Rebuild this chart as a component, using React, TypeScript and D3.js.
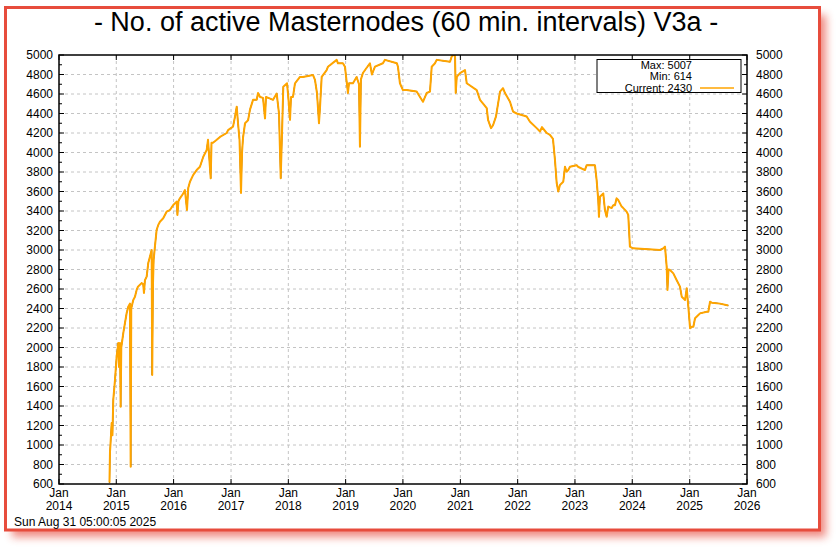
import React from "react";
import * as d3 from "d3";

// ---- data (decimal year, active masternodes) ----
const dates: number[] = [
  2014.881, 2014.890, 2014.898, 2014.919, 2014.933, 2014.947, 2014.977, 2015.006, 2015.034, 2015.047,
  2015.064, 2015.076, 2015.087, 2015.122, 2015.151, 2015.181, 2015.209, 2015.238, 2015.251, 2015.261,
  2015.296, 2015.326, 2015.355, 2015.378, 2015.442, 2015.470, 2015.483, 2015.500, 2015.530, 2015.558,
  2015.587, 2015.617, 2015.627, 2015.640, 2015.652, 2015.674, 2015.704, 2015.732, 2015.762, 2015.819,
  2015.878, 2015.936, 2015.994, 2016.053, 2016.067, 2016.084, 2016.110, 2016.168, 2016.198, 2016.233,
  2016.255, 2016.285, 2016.342, 2016.402, 2016.459, 2016.517, 2016.576, 2016.599, 2016.646, 2016.660,
  2016.686, 2016.751, 2016.808, 2016.925, 2016.948, 2017.035, 2017.070, 2017.099, 2017.122, 2017.148,
  2017.174, 2017.192, 2017.209, 2017.244, 2017.297, 2017.331, 2017.384, 2017.448, 2017.471, 2017.506,
  2017.558, 2017.593, 2017.610, 2017.733, 2017.797, 2017.837, 2017.867, 2017.890, 2017.912, 2017.977,
  2017.999, 2018.029, 2018.047, 2018.081, 2018.116, 2018.203, 2018.256, 2018.430, 2018.465, 2018.500,
  2018.535, 2018.552, 2018.582, 2018.669, 2018.692, 2018.844, 2018.866, 2018.953, 2018.988, 2019.041,
  2019.058, 2019.128, 2019.192, 2019.233, 2019.250, 2019.267, 2019.302, 2019.424, 2019.459, 2019.512,
  2019.651, 2019.686, 2019.895, 2019.913, 2019.948, 2020.000, 2020.065, 2020.239, 2020.297, 2020.349,
  2020.413, 2020.471, 2020.501, 2020.558, 2020.588, 2020.820, 2020.849, 2020.890, 2020.907, 2020.919,
  2020.937, 2020.994, 2021.081, 2021.111, 2021.285, 2021.343, 2021.460, 2021.483, 2021.535, 2021.570,
  2021.622, 2021.692, 2021.744, 2021.779, 2021.866, 2021.919, 2021.983, 2022.157, 2022.215, 2022.332,
  2022.390, 2022.424, 2022.506, 2022.564, 2022.616, 2022.651, 2022.681, 2022.709, 2022.738, 2022.796,
  2022.826, 2022.855, 2022.883, 2022.913, 2023.030, 2023.052, 2023.174, 2023.204, 2023.349, 2023.378,
  2023.406, 2023.419, 2023.436, 2023.494, 2023.523, 2023.553, 2023.581, 2023.640, 2023.668, 2023.698,
  2023.727, 2023.755, 2023.815, 2023.843, 2023.902, 2023.930, 2023.959, 2024.012, 2024.483, 2024.540,
  2024.570, 2024.599, 2024.613, 2024.631, 2024.657, 2024.715, 2024.774, 2024.831, 2024.861, 2024.919,
  2024.948, 2024.976, 2025.006, 2025.036, 2025.064, 2025.093, 2025.151, 2025.180, 2025.297, 2025.325,
  2025.355, 2025.384, 2025.529, 2025.674,
];
const counts: number[] = [
  614, 930, 1000, 1226, 1100, 1462, 1667, 1906, 2046, 1800,
  2046, 1393, 2000, 2148, 2250, 2354, 2418, 2450, 777, 2400,
  2487, 2521, 2590, 2624, 2660, 2650, 2560, 2690, 2727, 2866,
  2931, 3000, 1718, 2650, 2900, 3034, 3205, 3256, 3290, 3325,
  3393, 3410, 3462, 3496, 3360, 3500, 3530, 3580, 3615, 3410,
  3636, 3700, 3770, 3820, 3854, 3957, 4025, 4130, 3735, 4100,
  4100, 4130, 4160, 4200, 4230, 4265, 4370, 4470, 4300, 4130,
  3585, 4000, 4150, 4300, 4330, 4440, 4540, 4540, 4610, 4570,
  4560, 4350, 4570, 4540, 4605, 4400, 3735, 4200, 4675, 4710,
  4570, 4335, 4570, 4570, 4710, 4775, 4775, 4795, 4745, 4610,
  4300, 4455, 4775, 4845, 4880, 4950, 4915, 4915, 4880, 4610,
  4710, 4710, 4775, 4700, 4060, 4750, 4815, 4915, 4800, 4880,
  4915, 4950, 4915, 4880, 4710, 4640, 4640, 4625, 4570, 4520,
  4610, 4625, 4880, 4915, 4950, 4930, 4985, 5007, 4985, 4610,
  4775, 4815, 4845, 4710, 4640, 4540, 4455, 4335, 4250, 4280,
  4370, 4625, 4660, 4610, 4520, 4420, 4400, 4370, 4315, 4250,
  4215, 4260, 4200, 4180, 4140, 3923, 3687, 3600, 3667, 3700,
  3854, 3803, 3820, 3854, 3870, 3854, 3820, 3870, 3870, 3718,
  3513, 3340, 3547, 3580, 3410, 3340, 3445, 3430, 3460, 3460,
  3530, 3513, 3445, 3430, 3393, 3360, 3034, 3017, 3000, 3017,
  3034, 2830, 2590, 2800, 2795, 2760, 2690, 2624, 2521, 2487,
  2607, 2418, 2197, 2213, 2213, 2300, 2333, 2350, 2367, 2367,
  2470, 2460, 2450, 2430,
];
const tickYears: number[] = [2014, 2015, 2016, 2017, 2018, 2019, 2020, 2021, 2022, 2023, 2024, 2025, 2026];
const yTicks: number[] = [600, 800, 1000, 1200, 1400, 1600, 1800, 2000, 2200, 2400, 2600, 2800, 3000, 3200, 3400, 3600, 3800, 4000, 4200, 4400, 4600, 4800, 5000];
const titleText = "- No. of active Masternodes (60 min. intervals) V3a -";
const legendLines: string[] = ["Max: 5007", "Min: 614", "Current: 2430"];
const timestamp = "Sun Aug 31 05:00:05 2025";

function yearToDate(y: number): Date {
  const yr = Math.floor(y);
  const start = new Date(Date.UTC(yr, 0, 1)).getTime();
  const end = new Date(Date.UTC(yr + 1, 0, 1)).getTime();
  return new Date(start + (y - yr) * (end - start));
}

const W = 839;
const H = 550;
const M = { left: 59, right: 747, top: 55, bottom: 484 };
const FONT = "'Liberation Sans', Arial, Helvetica, sans-serif";
const RED = "#e74c3c";

export default function App() {
  const x = d3.scaleUtc()
    .domain([yearToDate(2014), yearToDate(2026)])
    .range([M.left, M.right]);
  const y = d3.scaleLinear().domain([600, 5000]).range([M.bottom, M.top]);

  const pts = dates.map((d, i) => ({ d: yearToDate(d), v: counts[i] }));
  const line = d3.line<{ d: Date; v: number }>()
    .x((p) => x(p.d))
    .y((p) => y(p.v));
  const path = line(pts) || "";

  const minorTicks = d3.range(700, 5000, 200);

  return (
    <svg width={W} height={H} style={{ position: "absolute", left: 0, top: 0, background: "#fff" }} fontFamily={FONT}>
      <defs>
        <filter id="shadow" x="-5%" y="-5%" width="115%" height="115%">
          <feGaussianBlur stdDeviation="4" />
        </filter>
        <clipPath id="plotclip">
          <rect x={M.left} y={M.top} width={M.right - M.left} height={M.bottom - M.top} />
        </clipPath>
      </defs>
      <rect x={0} y={0} width={W} height={H} fill="#fff" />
      <rect x={12} y={15} width={814} height={522} fill={RED} opacity={0.65} filter="url(#shadow)" />
      <rect x={5.5} y={7.5} width={814} height={522.5} fill="#fff" stroke={RED} strokeWidth={3} />

      <text x={406} y={31} textAnchor="middle" fontSize={27} fill="#000">{titleText}</text>

      {/* grid */}
      <g stroke="#c4c4c4" strokeWidth={1} strokeDasharray="3,3">
        {tickYears.slice(1, -1).map((t) => (
          <line key={"gx" + t} x1={x(yearToDate(t))} x2={x(yearToDate(t))} y1={M.top} y2={M.bottom} />
        ))}
        {yTicks.slice(1, -1).map((v) => (
          <line key={"gy" + v} x1={M.left} x2={M.right} y1={y(v)} y2={y(v)} />
        ))}
      </g>

      {/* data */}
      <g clipPath="url(#plotclip)">
        <path d={path} fill="none" stroke="#000" strokeWidth={1} />
        <path d={path} fill="none" stroke="#ffa500" strokeWidth={2} strokeLinejoin="round" />
      </g>

      {/* axes frame */}
      <rect x={M.left} y={M.top} width={M.right - M.left} height={M.bottom - M.top} fill="none" stroke="#000" strokeWidth={1.5} />

      {/* ticks */}
      <g stroke="#000" strokeWidth={1}>
        {yTicks.map((v) => (
          <g key={"ty" + v}>
            <line x1={M.left} x2={M.left + 5} y1={y(v)} y2={y(v)} />
            <line x1={M.right} x2={M.right - 5} y1={y(v)} y2={y(v)} />
          </g>
        ))}
        {minorTicks.map((v) => (
          <g key={"tm" + v}>
            <line x1={M.left} x2={M.left + 3} y1={y(v)} y2={y(v)} />
            <line x1={M.right} x2={M.right - 3} y1={y(v)} y2={y(v)} />
          </g>
        ))}
        {tickYears.map((t) => (
          <g key={"tx" + t}>
            <line x1={x(yearToDate(t))} x2={x(yearToDate(t))} y1={M.bottom} y2={M.bottom - 5} />
            <line x1={x(yearToDate(t))} x2={x(yearToDate(t))} y1={M.top} y2={M.top + 5} />
          </g>
        ))}
      </g>

      {/* tick labels */}
      <g fontSize={12} fill="#000">
        {yTicks.map((v) => (
          <g key={"ly" + v}>
            <text x={M.left - 6} y={y(v) + 4} textAnchor="end">{v}</text>
            <text x={M.right + 9} y={y(v) + 4} textAnchor="start">{v}</text>
          </g>
        ))}
        {tickYears.map((t) => (
          <g key={"lx" + t}>
            <text x={x(yearToDate(t))} y={497} textAnchor="middle">Jan</text>
            <text x={x(yearToDate(t))} y={510} textAnchor="middle">{t}</text>
          </g>
        ))}
      </g>

      {/* legend */}
      <rect x={597} y={59.5} width={144} height={33} fill="#fff" stroke="#000" strokeWidth={1} />
      <g fontSize={11} fill="#000">
        {legendLines.map((s, i) => (
          <text key={s} x={692} y={68.5 + i * 11.5} textAnchor="end">{s}</text>
        ))}
      </g>
      <line x1={700} x2={734} y1={88} y2={88} stroke="#ffa500" strokeWidth={1.5} />

      <text x={14} y={526} fontSize={12} fill="#000">{timestamp}</text>
    </svg>
  );
}
